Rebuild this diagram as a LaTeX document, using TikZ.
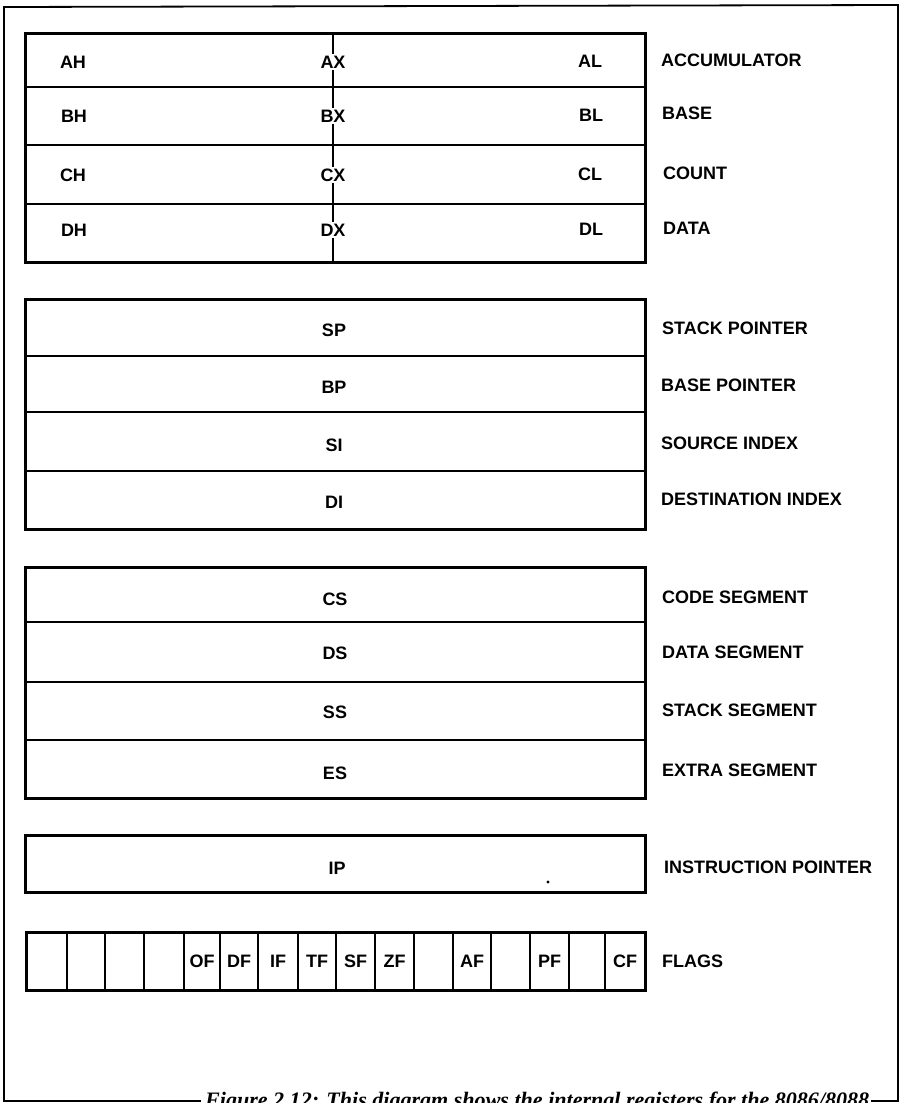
\documentclass[tikz,border=0pt]{standalone}
\usepackage{fontspec}
\setmainfont{Liberation Sans}
\newfontfamily\capfont{Liberation Serif}
\usepackage{graphicx}
\tikzset{
  frameline/.style={line width=1.8pt, line cap=rect},
  regbox/.style={draw, line width=2.6pt, minimum width=620pt, inner sep=0pt, outer sep=0pt},
  outerbox/.style={line width=3pt},
  midline/.style={line width=1.8pt},
  lbl/.style={inner sep=0pt, font=\bfseries\fontsize{18}{18}\selectfont},
  midlbl/.style={lbl, fill=white, inner xsep=1pt, inner ysep=2pt},
  rname/.style={lbl, anchor=west},
  cell/.style={draw, line width=2.4pt, minimum height=58pt, inner sep=0pt, outer sep=0pt, font=\bfseries\fontsize{18}{18}\selectfont},
  dotmark/.style={circle, fill, inner sep=0pt, minimum size=3.2pt},
}
\begin{document}
\begin{tikzpicture}[x=1pt, y=-1pt]
\useasboundingbox (0,0) rectangle (904,1103);

% outer frame
\coordinate (fbl) at (4,1101);
\coordinate (ftl) at (4,7);
\coordinate (ftr) at (898,5);
\coordinate (fbr) at (898,1101);
\coordinate (capl) at (200,1101);
\coordinate (capr) at (872,1101);
\draw[frameline] (capl) -- (fbl) -- (ftl) -- (ftr) -- (fbr) -- (capr);

% ---------- group 1: general registers ----------
\node[regbox, minimum height=54pt] (ax) at (335,60) {};
\node[regbox, minimum height=58pt] (bx) at (335,116) {};
\node[regbox, minimum height=59pt] (cx) at (335,174.5) {};
\node[regbox, minimum height=58pt] (dx) at (335,233) {};
\draw[outerbox] (25,33) rectangle (645,262);
\coordinate (midtop) at (333,33);
\coordinate (midbot) at (333,262);
\draw[midline] (midtop) -- (midbot);

\node[lbl] (ah) at (73,62) {AH};
\node[midlbl] (axl) at (333,62) {AX};
\node[lbl] (al) at (590,61) {AL};
\node[lbl] (bh) at (74,116) {BH};
\node[midlbl] (bxl) at (333,116) {BX};
\node[lbl] (bl) at (591,115) {BL};
\node[lbl] (ch) at (73,175) {CH};
\node[midlbl] (cxl) at (333,175) {CX};
\node[lbl] (cl) at (590,174) {CL};
\node[lbl] (dh) at (74,230) {DH};
\node[midlbl] (dxl) at (333,230) {DX};
\node[lbl] (dl) at (591,229) {DL};

\node[rname] (nacc) at (661,60) {ACCUMULATOR};
\node[rname] (nbase) at (662,113) {BASE};
\node[rname] (ncount) at (663,173) {COUNT};
\node[rname] (ndata) at (663,228) {DATA};

% ---------- group 2: pointer and index ----------
\node[regbox, minimum height=57pt] (sp) at (335,327.5) {};
\node[regbox, minimum height=56pt] (bp) at (335,384) {};
\node[regbox, minimum height=59pt] (si) at (335,441.5) {};
\node[regbox, minimum height=58pt] (di) at (335,500) {};
\draw[outerbox] (25,299) rectangle (645,529);
\node[lbl] (spl) at (334,330) {SP};
\node[lbl] (bpl) at (334,387) {BP};
\node[lbl] (sil) at (334,445) {SI};
\node[lbl] (dil) at (334,502) {DI};
\node[rname] (nsp) at (662,328) {STACK POINTER};
\node[rname] (nbp) at (661,385) {BASE POINTER};
\node[rname] (nsi) at (661,443) {SOURCE INDEX};
\node[rname] (ndi) at (661,499) {DESTINATION INDEX};

% ---------- group 3: segment registers ----------
\node[regbox, minimum height=55pt] (cs) at (335,594.5) {};
\node[regbox, minimum height=60pt] (ds) at (335,652) {};
\node[regbox, minimum height=58pt] (ss) at (335,711) {};
\node[regbox, minimum height=58pt] (es) at (335,769) {};
\draw[outerbox] (25,567) rectangle (645,798);
\node[lbl] (csl) at (335,599) {CS};
\node[lbl] (dsl) at (335,653) {DS};
\node[lbl] (ssl) at (335,712) {SS};
\node[lbl] (esl) at (335,773) {ES};
\node[rname] (ncs) at (662,597) {CODE SEGMENT};
\node[rname] (nds) at (662,652) {DATA SEGMENT};
\node[rname] (nss) at (662,710) {STACK SEGMENT};
\node[rname] (nes) at (662,770) {EXTRA SEGMENT};

% ---------- instruction pointer ----------
\node[regbox, line width=3pt, minimum height=57pt] (ip) at (335.5,863.5) {};
\node[lbl] (ipl) at (337,868) {IP};
\node[dotmark] (ipdot) at (548,882) {};
\node[rname] (nip) at (664,867) {INSTRUCTION POINTER};

% ---------- flags ----------
\foreach \l/\r/\t [count=\i] in {26/67/{},67/105/{},105/144/{},144/184/{},184/220/OF,220/258/DF,258/298/IF,298/336/TF,336/375/SF,375/414/ZF,414/453/{},453/491/AF,491/530/{},530/569/PF,569/605/{},605/645/CF}{
  \node[cell, minimum width={\r pt-\l pt}] (f\i) at ({(\l+\r)/2},961) {\t};
}
\draw[outerbox] (26,932) rectangle (645,990);
\node[rname] (nflags) at (662,961) {FLAGS};

% ---------- caption (cut off at page bottom) ----------
\node[anchor=base west, inner sep=0pt] (caption) at (205,1107)
  {\resizebox{664pt}{!}{\capfont\bfseries\itshape\fontsize{20}{20}\selectfont Figure 2.12: This diagram shows the internal registers for the 8086/8088}};
\end{tikzpicture}
\end{document}
